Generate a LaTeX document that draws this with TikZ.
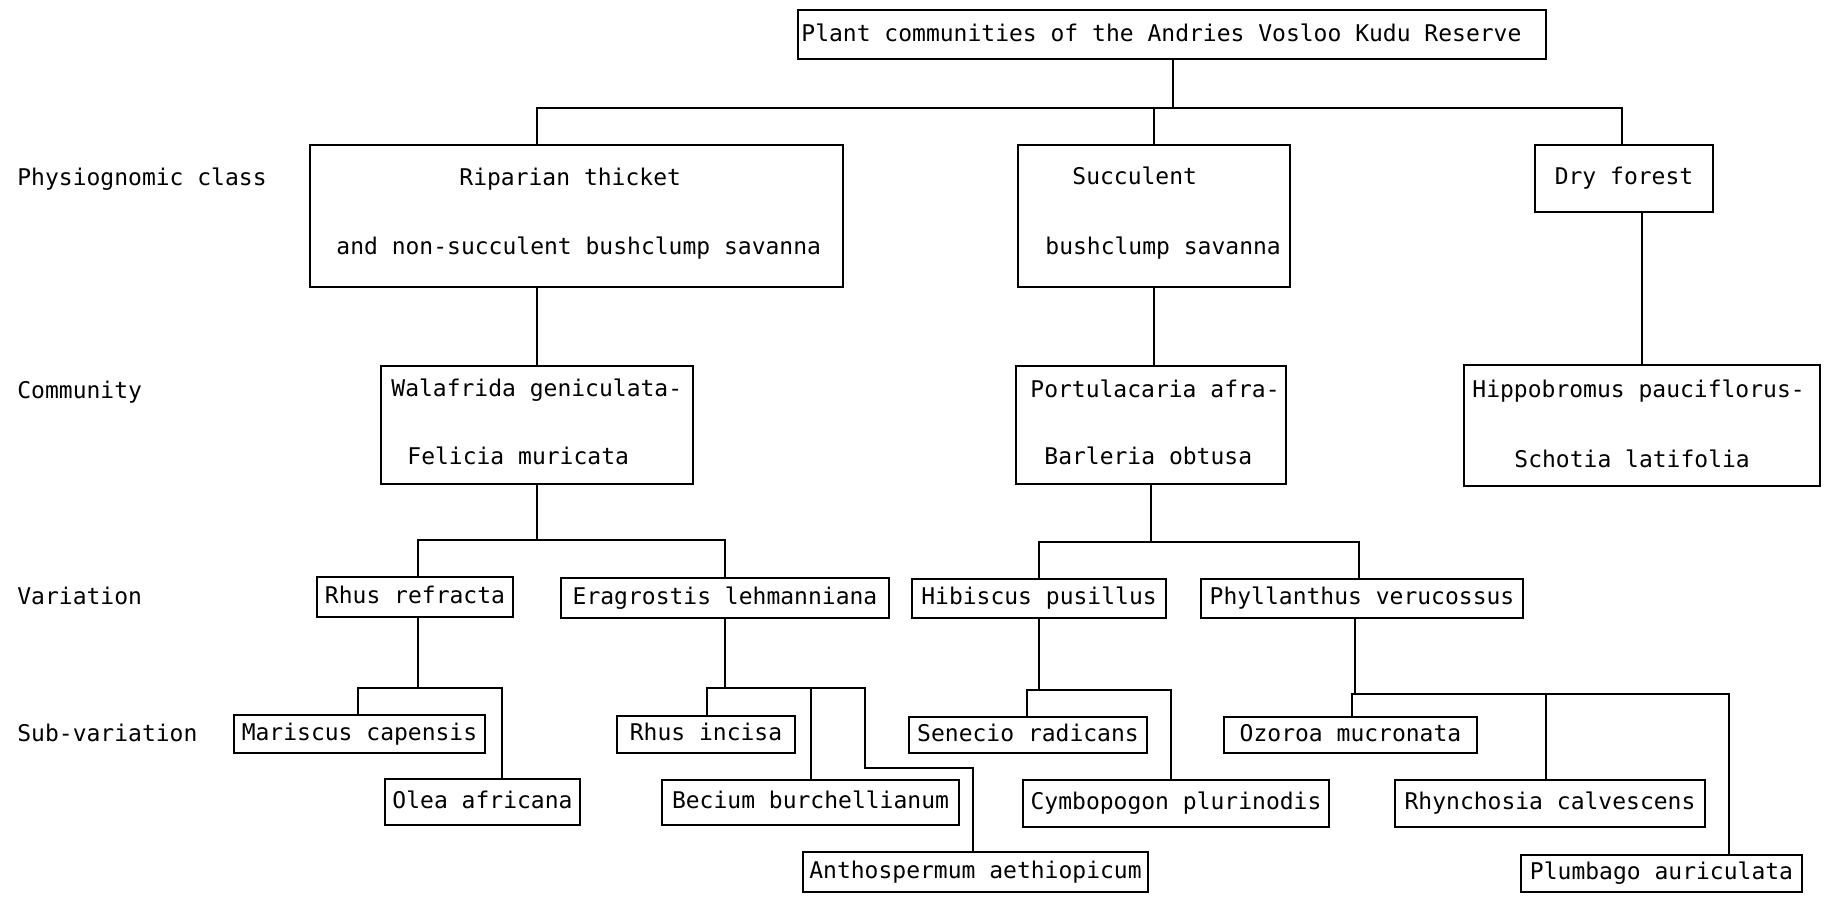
\documentclass[tikz,border=0pt]{standalone}
\usepackage{fontspec}
\setmonofont{DejaVu Sans Mono}
\usetikzlibrary{calc}
\tikzset{
  bx/.style={draw, line width=1.1pt, inner sep=0pt, font=\ttfamily\fontsize{11.5}{13}\selectfont, text height=8pt, text depth=2pt},
  tx/.style={font=\ttfamily\fontsize{11.5}{13}\selectfont, inner sep=0pt, anchor=base west},
  ln/.style={line width=1.1pt}
}
\newcommand\mybox[6]{\node[bx, minimum width={(#4-#2)*0.5pt}, minimum height={(#5-#3)*0.5pt}] (#1) at ({(#2+#4)/2},{(#3+#5)/2}) {#6};}
\begin{document}
\begin{tikzpicture}[x=0.5pt,y=-0.5pt]
\useasboundingbox (0,0) rectangle (1829,896);
% boxes
\mybox{title}{798}{10}{1546}{59}{}
\mybox{rip}{310}{145}{843}{287}{}
\mybox{suc}{1018}{145}{1290}{287}{}
\mybox{dry}{1535}{145}{1713}{212}{Dry forest}
\mybox{wal}{381}{366}{693}{484}{}
\mybox{por}{1016}{366}{1286}{484}{}
\mybox{hip}{1464}{365}{1820}{486}{}
\mybox{rhr}{317}{577}{513}{617}{Rhus refracta}
\mybox{era}{561}{578}{889}{618}{Eragrostis lehmanniana}
\mybox{hib}{912}{579}{1166}{618}{Hibiscus pusillus}
\mybox{phy}{1201}{579}{1523}{618}{Phyllanthus verucossus}
\mybox{mar}{234}{715}{485}{753}{Mariscus capensis}
\mybox{ole}{385}{779}{580}{825}{Olea africana}
\mybox{rhi}{617}{716}{795}{753}{Rhus incisa}
\mybox{bec}{662}{780}{959}{825}{Becium burchellianum}
\mybox{ant}{803}{852}{1148}{892}{Anthospermum aethiopicum}
\mybox{sen}{909}{717}{1147}{753}{Senecio radicans}
\mybox{cym}{1023}{780}{1329}{827}{Cymbopogon plurinodis}
\mybox{ozo}{1224}{717}{1477}{753}{Ozoroa mucronata}
\mybox{rhy}{1395}{780}{1705}{827}{Rhynchosia calvescens}
\mybox{plu}{1521}{855}{1802}{892}{Plumbago auriculata}
% texts
\node[tx] (t0) at (801,41) {Plant communities of the Andries Vosloo Kudu Reserve};
\node[tx] (t1) at (459,185) {Riparian thicket};
\node[tx] (t2) at (336,254) {and non-succulent bushclump savanna};
\node[tx] (t3) at (1072,184) {Succulent};
\node[tx] (t4) at (1045,254) {bushclump savanna};
\node[tx] (t5) at (391,396) {Walafrida geniculata-};
\node[tx] (t6) at (407,464) {Felicia muricata};
\node[tx] (t7) at (1030,397) {Portulacaria afra-};
\node[tx] (t8) at (1044,464) {Barleria obtusa};
\node[tx] (t9) at (1472,397) {Hippobromus pauciflorus-};
\node[tx] (t10) at (1514,467) {Schotia latifolia};
\node[tx] (l1) at (17,185) {Physiognomic class};
\node[tx] (l2) at (17,398) {Community};
\node[tx] (l3) at (17,604) {Variation};
\node[tx] (l4) at (17,741) {Sub-variation};
% connectors
\coordinate (tj) at (1173,108);
\coordinate (hl) at (537,108);
\coordinate (hr) at (1622,108);
\draw[ln] (title.south -| tj) -- (tj);
\draw[ln] (hl |- rip.north) -- (hl) -- (hr) -- (hr |- dry.north);
\draw[ln] (suc.north) -- (suc.north |- hl);
\draw[ln] (rip.south -| hl) -- (wal.north -| hl);
\draw[ln] (suc.south) -- (suc.south |- por.north);
\draw[ln] (hip.north) -- (hip.north |- dry.south);
% Walafrida branch
\coordinate (wl) at (418,540);
\coordinate (wr) at (725,540);
\draw[ln] (wal.south) -- (wal.south |- wl);
\draw[ln] (wl |- rhr.north) -- (wl) -- (wr) -- (wr |- era.north);
% Portulacaria branch
\coordinate (pl) at (1039,542);
\coordinate (pr) at (1359,542);
\draw[ln] (por.south) -- (por.south |- pl);
\draw[ln] (pl |- hib.north) -- (pl) -- (pr) -- (pr |- phy.north);
% Rhus refracta branch
\coordinate (a0) at (418,688);
\coordinate (a1) at (358,688);
\coordinate (a2) at (502,688);
\draw[ln] (rhr.south -| a0) -- (a0);
\draw[ln] (a1 |- mar.north) -- (a1) -- (a2) -- (a2 |- ole.north);
% Eragrostis branch
\coordinate (b0) at (725,688);
\coordinate (b1) at (707,688);
\coordinate (b2) at (811,688);
\coordinate (b3) at (865,688);
\coordinate (b4) at (865,768);
\coordinate (b5) at (973,768);
\draw[ln] (era.south) -- (era.south |- b0);
\draw[ln] (b1 |- rhi.north) -- (b1) -- (b3) -- (b4) -- (b5) -- (b5 |- ant.north);
\draw[ln] (b2) -- (b2 |- bec.north);
% Hibiscus branch
\coordinate (c0) at (1039,690);
\coordinate (c1) at (1027,690);
\coordinate (c2) at (1171,690);
\draw[ln] (hib.south) -- (hib.south |- c0);
\draw[ln] (c1 |- sen.north) -- (c1) -- (c2) -- (c2 |- cym.north);
% Phyllanthus branch
\coordinate (d0) at (1355,694);
\coordinate (d1) at (1352,694);
\coordinate (d2) at (1546,694);
\coordinate (d3) at (1729,694);
\draw[ln] (phy.south -| d0) -- (d0);
\draw[ln] (d1 |- ozo.north) -- (d1) -- (d3) -- (d3 |- plu.north);
\draw[ln] (d2) -- (d2 |- rhy.north);
\end{tikzpicture}
\end{document}
